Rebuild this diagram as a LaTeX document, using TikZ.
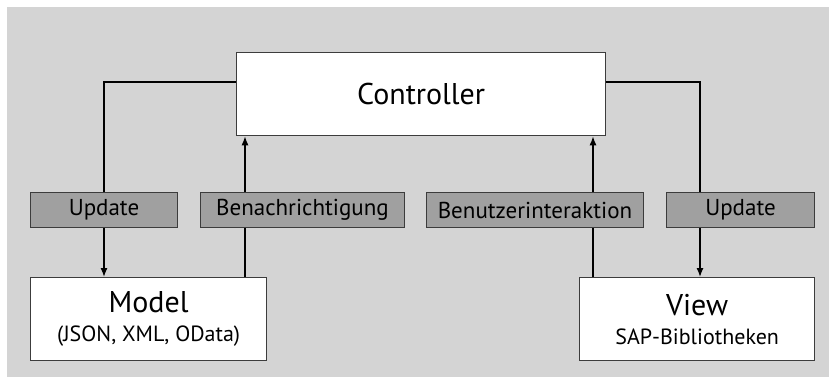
\documentclass[tikz,border=0pt]{standalone}
\usepackage{fontspec}
\setmainfont{PT Sans}
\usetikzlibrary{arrows.meta,calc}
\pgfdeclarelayer{bg}
\pgfdeclarelayer{wires}
\pgfsetlayers{bg,wires,main}
\definecolor{panel}{RGB}{212,212,212}
\definecolor{tagfill}{RGB}{160,160,160}
\definecolor{edge}{RGB}{60,60,60}
\newcommand{\bigtitle}{\fontsize{30}{29}\selectfont}
\newcommand{\subtitle}{\fontsize{22}{29}\selectfont}
\tikzset{
  x=1pt, y=-1pt,
  mainbox/.style={draw=edge, line width=1.3pt, fill=white, inner sep=0pt, anchor=north west,
    font=\fontsize{22}{29}\selectfont},
  tagbox/.style={draw=edge, line width=1pt, fill=tagfill, inner sep=0pt, anchor=north west,
    font=\fontsize{23}{26}\selectfont},
  wire/.style={line width=1.3pt, black},
  arr/.style={wire, -{Latex[length=9pt,width=7pt]}},
}
\begin{document}
\begin{tikzpicture}
\useasboundingbox (0,0) rectangle (829,377);
\begin{pgfonlayer}{bg}
  \fill[panel] (7,7) rectangle (829,377);
\end{pgfonlayer}

% main components
\node[mainbox, minimum width=369pt, minimum height=83pt] (ctrl) at (236,52)
  {\bigtitle Controller};
\node[mainbox, minimum width=236pt, minimum height=83pt, align=center] (model) at (30,277)
  {\bigtitle Model\\\subtitle (JSON, XML, OData)};
\node[mainbox, minimum width=235pt, minimum height=83pt, align=center] (view) at (579,277)
  {\bigtitle View\\\subtitle SAP-Bibliotheken};

% connector labels
\node[tagbox, minimum width=147pt, minimum height=35pt] (updL) at (30,192) {Update};
\node[tagbox, minimum width=204pt, minimum height=35pt] (notify) at (200,192) {Benachrichtigung};
\node[tagbox, minimum width=217pt, minimum height=35pt] (interact) at (426,192) {Benutzerinteraktion};
\node[tagbox, minimum width=148pt, minimum height=35pt] (updR) at (666,192) {Update};

% guide coordinates for the wires
\coordinate (yTop) at (0,82);
\coordinate (xL) at (104,0);
\coordinate (xN) at (245,0);
\coordinate (xI) at (593,0);
\coordinate (xR) at (700,0);

\begin{pgfonlayer}{wires}
  \draw[arr] (ctrl.west |- yTop) -| (xL |- model.north);
  \draw[arr] (xN |- model.north) -- (xN |- ctrl.south);
  \draw[arr] (xI |- view.north) -- (xI |- ctrl.south);
  \draw[arr] (ctrl.east |- yTop) -| (xR |- view.north);
\end{pgfonlayer}
\end{tikzpicture}
\end{document}
